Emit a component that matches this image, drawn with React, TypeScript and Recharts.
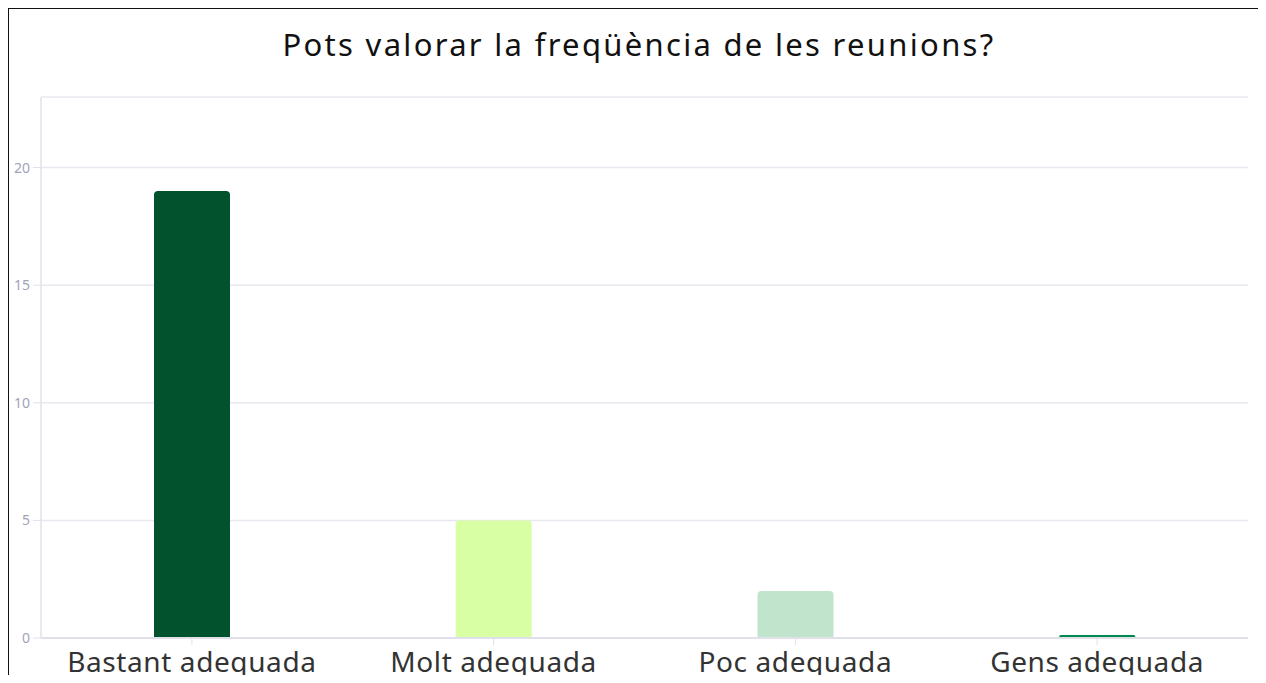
import React from "react";
import { BarChart, Bar, XAxis, YAxis, CartesianGrid, Cell } from "recharts";

const categories = ["Bastant adequada", "Molt adequada", "Poc adequada", "Gens adequada"];
const responses = [19, 5, 2, 0];
const barColors = ["#02532d", "#d8ffa4", "#c0e4cc", "#00894f"];
const yTicks = [0, 5, 10, 15, 20];

const data = categories.map((label, i) => ({ label, value: responses[i] }));

const FONT = "'Noto Sans', 'Open Sans', sans-serif";

export default function App() {
  return (
    <div
      style={{
        position: "relative",
        margin: -8,
        width: 1266,
        height: 683,
        overflow: "hidden",
        background: "#fff",
        fontFamily: FONT,
      }}
    >
      <div
        style={{
          position: "absolute",
          left: 0,
          top: 26,
          width: 1278,
          textAlign: "center",
          fontSize: 31,
          letterSpacing: 2.3,
          lineHeight: "36px",
          color: "#111",
        }}
      >
        Pots valorar la freqüència de les reunions?
      </div>
      <div style={{ position: "absolute", left: 0, top: 0 }}>
        <BarChart
          width={1266}
          height={700}
          data={data}
          margin={{ top: 97, right: 18, bottom: 0, left: 0 }}
          barCategoryGap={0}
        >
          <CartesianGrid stroke="#e8e8f0" strokeWidth={1.5} vertical={false} />
          <XAxis
            dataKey="label"
            height={62}
            tick={{ fontSize: 28, fill: "#333", fontFamily: FONT, letterSpacing: 0.6 }}
            tickLine={{ stroke: "#e0e0ea" }}
            tickSize={7}
            tickMargin={7}
            axisLine={{ stroke: "#e0e0ea", strokeWidth: 2 }}
            interval={0}
          />
          <YAxis
            domain={[0, 23]}
            ticks={yTicks}
            width={41}
            tick={{ fontSize: 14, fill: "#a3a3b8", fontFamily: FONT }}
            tickLine={{ stroke: "#e0e0ea" }}
            tickSize={8}
            tickMargin={3}
            axisLine={{ stroke: "#e8e8f0", strokeWidth: 2 }}
          />
          <Bar
            dataKey="value"
            barSize={76}
            radius={[4, 4, 0, 0]}
            minPointSize={3}
            isAnimationActive={false}
          >
            {data.map((d, i) => (
              <Cell key={d.label} fill={barColors[i]} />
            ))}
          </Bar>
        </BarChart>
      </div>
      <div
        style={{
          position: "absolute",
          left: 7,
          top: 7,
          width: 1252,
          height: 720,
          border: "2px solid #111",
          boxShadow: "1px 1px 0 #888",
          pointerEvents: "none",
        }}
      />
    </div>
  );
}
